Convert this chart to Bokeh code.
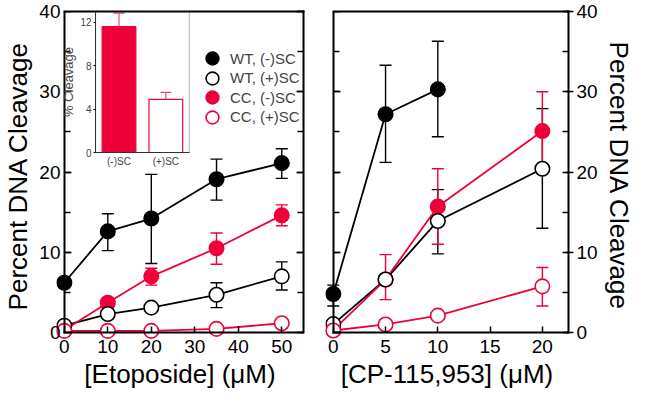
import math
from bokeh.plotting import figure
from bokeh.layouts import row
from bokeh.models import (LinearAxis, Range1d, FixedTicker, SingleIntervalTicker,
                          BoxAnnotation, Legend, LegendItem, CustomJSTickFormatter)
from bokeh.embed import file_html
from bokeh.resources import INLINE

nan = float("nan")

# ---------------- data ----------------
series_labels = ["WT, (-)SC", "WT, (+)SC", "CC, (-)SC", "CC, (+)SC"]

eto_x = [0, 10, 20, 35, 50]
eto_wt_neg = [6.2, 12.6, 14.2, 19.1, 21.1]
eto_wt_neg_lo = [nan, 10.2, 8.6, 16.5, 19.2]
eto_wt_neg_hi = [nan, 14.8, 19.7, 21.6, 22.9]
eto_wt_pos = [0.85, 2.3, 3.1, 4.7, 7.0]
eto_wt_pos_lo = [nan, nan, nan, 3.1, 5.3]
eto_wt_pos_hi = [nan, nan, nan, 6.2, 8.8]
eto_cc_neg = [0.3, 3.7, 7.0, 10.5, 14.6]
eto_cc_neg_lo = [nan, 3.1, 5.9, 8.5, 13.3]
eto_cc_neg_hi = [nan, 4.3, 8.0, 12.4, 15.9]
eto_cc_pos = [0.2, 0.2, 0.2, 0.45, 1.15]
eto_cc_pos_lo = [nan, nan, nan, nan, nan]
eto_cc_pos_hi = [nan, nan, nan, nan, nan]

cp_x = [0, 5, 10, 20]
cp_wt_neg = [4.8, 27.2, 30.3, nan]
cp_wt_neg_lo = [3.3, 21.2, 24.4, nan]
cp_wt_neg_hi = [5.9, 33.3, 36.3, nan]
cp_wt_pos = [1.05, 6.6, 13.9, 20.4]
cp_wt_pos_lo = [nan, nan, 9.8, 13.0]
cp_wt_pos_hi = [nan, nan, 17.8, 27.9]
cp_cc_neg = [0.3, 6.6, 15.7, 25.1]
cp_cc_neg_lo = [nan, 4.1, 11.0, 20.2]
cp_cc_neg_hi = [nan, 9.7, 20.4, 30.0]
cp_cc_pos = [0.25, 1.0, 2.1, 5.75]
cp_cc_pos_lo = [nan, nan, nan, 3.3]
cp_cc_pos_hi = [nan, nan, nan, 8.1]

inset_cats = ["(-)SC", "(+)SC"]
inset_vals = [11.6, 4.9]
inset_hi = [12.85, 5.55]
inset_ticks = [0, 4, 8, 12]

y_tick_interval = 10
eto_tick_interval = 10
cp_tick_interval = 5

# ---------------- style / layout ----------------
RED = "#EE0038"
ERR_PINK = "#F04A6E"
BLACK = "#000000"
FONT = "Liberation Sans"
PAD = 8            # px of frame kept beyond the drawn box (so edge markers are not clipped)
H = 392
TOP = 11
BOX_H = 321
BOTTOM = H - TOP - BOX_H - PAD
Y_MAX = 40
X_L_MAX = 55
X_R_MAX = 22.5
LABEL_PX = "19px"
TITLE_PX = "26px"


def padded(vmax, box_px):
    return Range1d(start=-PAD * vmax / box_px, end=vmax)


def mapped_range(v0, v1, p0, p1, total):
    s = (v1 - v0) / (p1 - p0)
    return Range1d(start=v0 - p0 * s, end=v0 + (total - p0) * s)


def blank():
    return CustomJSTickFormatter(code="return ''")


def make_fig(width, bl, br, xmax):
    box_w = width - bl - br - PAD
    p = figure(width=width, height=H, output_backend="svg", toolbar_location=None,
               x_axis_location=None, y_axis_location=None, title=None,
               x_range=padded(xmax, box_w), y_range=padded(Y_MAX, BOX_H),
               min_border_left=bl, min_border_right=br,
               min_border_top=TOP, min_border_bottom=BOTTOM)
    p.outline_line_color = None
    p.background_fill_color = "white"
    p.border_fill_color = "white"
    p.grid.visible = False
    return p


def line_axis(ax, tin=7, minor_in=6, tout=0):
    ax.axis_line_width = 2
    ax.axis_line_cap = "square"
    ax.major_tick_line_width = 1.5
    ax.minor_tick_line_width = 1.5
    ax.major_tick_in = tin
    ax.major_tick_out = tout
    ax.minor_tick_in = minor_in
    ax.minor_tick_out = 0
    ax.major_label_standoff = 0
    return ax


def text_axis(ax, standoff):
    ax.major_label_text_font = FONT
    ax.major_label_text_font_size = LABEL_PX
    ax.major_label_text_color = "black"
    ax.major_label_standoff = standoff
    ax.axis_label_text_font = FONT
    ax.axis_label_text_font_size = TITLE_PX
    ax.axis_label_text_font_style = "normal"
    ax.axis_label_text_color = "black"
    ax.axis_label_standoff = 3
    return ax


def label_only(ax, standoff):
    text_axis(ax, standoff)
    ax.axis_line_color = None
    ax.major_tick_line_color = None
    ax.minor_tick_line_color = None
    ax.major_tick_in = 0
    ax.major_tick_out = 0
    ax.minor_tick_in = 0
    ax.minor_tick_out = 0
    return ax


def yticker():
    return SingleIntervalTicker(interval=y_tick_interval, num_minor_ticks=2)


def add_frame_axes(p, xmax, xinterval, xlabel, ylabel_side):
    # drawn box: left edge at x=0 (inside the padded frame)
    p.add_layout(line_axis(LinearAxis(fixed_location=0, bounds=(0, Y_MAX), ticker=yticker(),
                                      formatter=blank())), "left")
    # bottom edge at y=0
    p.add_layout(line_axis(LinearAxis(fixed_location=0, bounds=(0, xmax), formatter=blank(),
                                      ticker=SingleIntervalTicker(interval=xinterval, num_minor_ticks=0)),
                           tin=6), "below")
    # top edge (frame top)
    p.add_layout(line_axis(LinearAxis(bounds=(0, xmax), ticker=FixedTicker(ticks=[]),
                                      formatter=blank()), tin=0), "above")
    # x tick labels + title, placed relative to the y=0 line
    xl = LinearAxis(bounds=(0, xmax), axis_label=xlabel,
                    ticker=SingleIntervalTicker(interval=xinterval, num_minor_ticks=0))
    p.add_layout(label_only(xl, 7 - PAD), "below")
    if ylabel_side == "left":
        yl = LinearAxis(bounds=(0, Y_MAX), ticker=yticker(), axis_label="Percent DNA Cleavage")
        p.add_layout(label_only(yl, 4 - PAD), "left")
        p.add_layout(line_axis(LinearAxis(bounds=(0, Y_MAX), ticker=yticker(),
                                          formatter=blank())), "right")
    else:
        yr = LinearAxis(bounds=(0, Y_MAX), ticker=yticker(), axis_label="Percent DNA Cleavage")
        line_axis(yr, tin=3, tout=5)
        text_axis(yr, 3)
        p.add_layout(yr, "right")


def draw_series(p, xs, groups):
    for ys, lo, hi, color in groups:
        p.segment(x0=xs, y0=lo, x1=xs, y1=hi, line_color=color, line_width=1.4)
        p.scatter(xs, lo, marker="dash", size=12, line_color=color, line_width=1.4)
        p.scatter(xs, hi, marker="dash", size=12, line_color=color, line_width=1.4)
    for ys, lo, hi, color in groups:
        p.line(xs, ys, line_color=color, line_width=1.8)


def draw_markers(p, xs, ys, color, filled):
    return p.scatter(xs, ys, marker="circle", size=14.5,
                     fill_color=color if filled else "white",
                     line_color=color, line_width=1.6)


# ---------------- left panel ----------------
WL = 318
BL_L, BR_L = 50, 15
pl = make_fig(WL, BL_L, BR_L, X_L_MAX)
add_frame_axes(pl, X_L_MAX, eto_tick_interval, "[Etoposide] (μM)", "left")
draw_series(pl, eto_x, [
    (eto_wt_neg, eto_wt_neg_lo, eto_wt_neg_hi, BLACK),
    (eto_wt_pos, eto_wt_pos_lo, eto_wt_pos_hi, BLACK),
    (eto_cc_neg, eto_cc_neg_lo, eto_cc_neg_hi, RED),
    (eto_cc_pos, eto_cc_pos_lo, eto_cc_pos_hi, RED),
])
r_cc_neg = draw_markers(pl, eto_x, eto_cc_neg, RED, True)
r_wt_neg = draw_markers(pl, eto_x, eto_wt_neg, BLACK, True)
r_wt_pos = draw_markers(pl, eto_x, eto_wt_pos, BLACK, False)
r_cc_pos = draw_markers(pl, eto_x, eto_cc_pos, RED, False)

# legend: one single-entry legend per row so the rows can sit closer than the glyph box
LEG_X, LEG_Y0, LEG_PITCH = 140, 266, 19.5
for i, (lab, rend) in enumerate(zip(series_labels, [r_wt_neg, r_wt_pos, r_cc_neg, r_cc_pos])):
    pl.add_layout(Legend(items=[LegendItem(label=lab, renderers=[rend])],
                         location=(LEG_X, LEG_Y0 - i * LEG_PITCH),
                         glyph_width=32, glyph_height=32, padding=0, margin=0,
                         label_width=90, label_standoff=2,
                         label_text_font=FONT, label_text_font_size="15px",
                         background_fill_alpha=0, border_line_alpha=0))

# ---------------- inset (drawn inside the left panel) ----------------
FW = WL - BL_L - BR_L
FH = H - TOP - BOTTOM
pl.extra_x_ranges = {"ix": mapped_range(0.5, 2.5, 40, 136, FW)}
pl.extra_y_ranges = {"iy": mapped_range(0, 13, 188, 329, FH)}
inset_x = [i + 1 for i in range(len(inset_cats))]
pl.vbar(x=inset_x, top=inset_vals, bottom=0, width=0.72,
        fill_color=[RED, "white"], line_color=RED, line_width=1.2,
        x_range_name="ix", y_range_name="iy")
pl.segment(x0=inset_x, y0=inset_vals, x1=inset_x, y1=inset_hi,
           line_color=ERR_PINK, line_width=1.2, x_range_name="ix", y_range_name="iy")
pl.scatter(inset_x, inset_hi, marker="dash", size=11, line_color=ERR_PINK,
           line_width=1.2, x_range_name="ix", y_range_name="iy")
pl.add_layout(BoxAnnotation(left=0.5, right=2.5, bottom=0, top=13,
                            x_range_name="ix", y_range_name="iy",
                            fill_alpha=0, line_color="#333333", line_width=1.2))
iax = LinearAxis(x_range_name="ix", y_range_name="iy", fixed_location=0.5,
                 bounds=(0, 13), ticker=FixedTicker(ticks=inset_ticks),
                 axis_label="% Cleavage")
iax.axis_line_color = "#333333"
iax.major_tick_in = 0
iax.major_tick_out = 2
iax.minor_tick_line_color = None
iax.major_label_text_font = FONT
iax.major_label_text_font_size = "10px"
iax.major_label_standoff = 2
iax.axis_label_text_font = FONT
iax.axis_label_text_font_size = "13px"
iax.axis_label_text_font_style = "normal"
iax.axis_label_standoff = 1
pl.add_layout(iax, "left")
ixax = LinearAxis(x_range_name="ix", y_range_name="iy", fixed_location=0,
                  bounds=(0.5, 2.5), ticker=FixedTicker(ticks=inset_x),
                  major_label_overrides={x: c for x, c in zip(inset_x, inset_cats)})
ixax.axis_line_color = "#333333"
ixax.major_tick_in = 0
ixax.major_tick_out = 0
ixax.minor_tick_line_color = None
ixax.major_label_text_font = FONT
ixax.major_label_text_font_size = "10px"
ixax.major_label_standoff = 3
pl.add_layout(ixax, "below")

# ---------------- right panel ----------------
WR = 636 - WL
pr = make_fig(WR, 7, 61, X_R_MAX)
add_frame_axes(pr, X_R_MAX, cp_tick_interval, "[CP-115,953] (μM)", "right")
draw_series(pr, cp_x, [
    (cp_wt_neg, cp_wt_neg_lo, cp_wt_neg_hi, BLACK),
    (cp_wt_pos, cp_wt_pos_lo, cp_wt_pos_hi, BLACK),
    (cp_cc_neg, cp_cc_neg_lo, cp_cc_neg_hi, RED),
    (cp_cc_pos, cp_cc_pos_lo, cp_cc_pos_hi, RED),
])
draw_markers(pr, cp_x, cp_cc_neg, RED, True)
draw_markers(pr, cp_x, cp_wt_neg, BLACK, True)
draw_markers(pr, cp_x, cp_wt_pos, BLACK, False)
draw_markers(pr, cp_x, cp_cc_pos, RED, False)

layout = row(pl, pr, spacing=0)
open("out.html", "w").write(file_html(layout, INLINE))
